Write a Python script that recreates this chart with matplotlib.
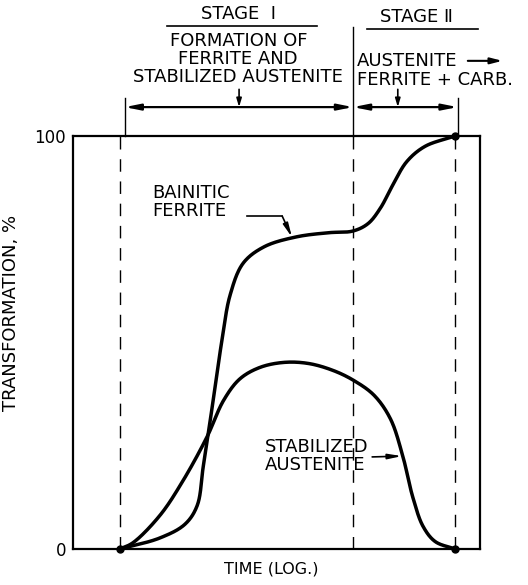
import numpy as np
import matplotlib
matplotlib.use("Agg")
import matplotlib.pyplot as plt

# ---- data (x = log time, arbitrary units 0..100; y = %) ----
ferrite_t = [11.5, 21.4, 27.5, 30.5, 32.0, 34.2, 36.6, 38.6, 41.8, 47.0, 55.0,
             63.0, 68.8, 72.5, 75.5, 78.5, 82.0, 86.5, 93.9]
ferrite_y = [0.0, 2.7, 6.0, 10.5, 20.0, 34.4, 50.6, 61.5, 69.2, 73.2, 75.6,
             76.6, 77.0, 78.8, 82.5, 88.0, 93.8, 97.5, 100.0]

austenite_t = [11.5, 14.7, 21.4, 27.0, 32.9, 37.0, 41.0, 46.0, 52.0, 58.0, 64.0,
               69.0, 74.0, 78.0, 81.0, 83.5, 86.0, 89.0, 93.9]
austenite_y = [0.0, 1.5, 8.2, 16.5, 27.1, 36.0, 41.2, 44.0, 45.2, 44.9, 43.2,
               40.8, 37.2, 31.5, 22.6, 12.5, 5.5, 1.8, 0.0]

stage_bounds = [11.5, 68.8, 93.9]
ytick_vals = [0, 100]
ytick_labels = ["0", "100"]


def smooth(xs, ys, n=30, alpha=0.5):
    """Centripetal Catmull-Rom spline through the read points."""
    p = np.column_stack([xs, ys]).astype(float)
    p = np.vstack([2 * p[0] - p[1], p, 2 * p[-1] - p[-2]])
    out = []
    for i in range(1, len(p) - 2):
        P0, P1, P2, P3 = p[i - 1], p[i], p[i + 1], p[i + 2]
        t0 = 0.0
        t1 = t0 + np.linalg.norm(P1 - P0) ** alpha
        t2 = t1 + np.linalg.norm(P2 - P1) ** alpha
        t3 = t2 + np.linalg.norm(P3 - P2) ** alpha
        t = np.linspace(t1, t2, n, endpoint=False)[:, None]
        A1 = (t1 - t) / (t1 - t0) * P0 + (t - t0) / (t1 - t0) * P1
        A2 = (t2 - t) / (t2 - t1) * P1 + (t - t1) / (t2 - t1) * P2
        A3 = (t3 - t) / (t3 - t2) * P2 + (t - t2) / (t3 - t2) * P3
        B1 = (t2 - t) / (t2 - t0) * A1 + (t - t0) / (t2 - t0) * A2
        B2 = (t3 - t) / (t3 - t1) * A2 + (t - t1) / (t3 - t1) * A3
        C = (t2 - t) / (t2 - t1) * B1 + (t - t1) / (t2 - t1) * B2
        out.append(C)
    out.append(p[-2][None, :])
    out = np.vstack(out)
    return out[:, 0], out[:, 1]


plt.rcParams['font.family'] = ["DejaVu Sans"]

fig = plt.figure(figsize=(5.28, 5.85), dpi=100)
ax = fig.add_axes([0.1383, 0.0615, 0.7708, 0.706])
ax.set_xlim(0, 100)
ax.set_ylim(0, 100)
for s in ax.spines.values():
    s.set_linewidth(1.6)
    s.set_color("black")

ax.set_xticks([])
ax.set_yticks(ytick_vals)
ax.set_yticklabels(ytick_labels, fontsize=12)
ax.tick_params(axis='y', length=0, pad=5)

ax.set_xlabel("TIME (LOG.)", fontsize=11.5)
ax.xaxis.set_label_coords(0.486, -0.03)
ax.xaxis.label.set_va("top")
ax.set_ylabel("TRANSFORMATION, %", fontsize=13)
ax.yaxis.set_label_coords(-0.13, 0.571)

# dashed stage boundaries
for xb in stage_bounds:
    ax.plot([xb, xb], [0, 100], color="black", lw=1.0, dashes=(9, 7))

# curves
ax.plot(*smooth(ferrite_t, ferrite_y), color="black", lw=2.5, solid_capstyle="round")
ax.plot(*smooth(austenite_t, austenite_y), color="black", lw=2.5, solid_capstyle="round")

# end dots
ax.plot([stage_bounds[0], stage_bounds[2], stage_bounds[2]],
        [0, 0, 100], "o", color="black", ms=5, clip_on=False, zorder=5)

# ---- annotations above the axes ----
kw = dict(clip_on=False, color="black")
ybr = 107.0
ax.plot([stage_bounds[1], stage_bounds[1]], [100, 126.5], lw=1.0, **kw)
ax.plot([stage_bounds[0] + 1.2, stage_bounds[0] + 1.2], [100, 109.2], lw=1.0, **kw)
ax.plot([stage_bounds[2] + 0.6, stage_bounds[2] + 0.6], [100, 109.2], lw=1.0, **kw)
ap = dict(arrowstyle="<|-|>,head_length=0.9,head_width=0.18", lw=1.6, color="black",
          shrinkA=0, shrinkB=0)
ax.annotate("", xy=(stage_bounds[0] + 1.2, ybr), xytext=(stage_bounds[1], ybr),
            arrowprops=ap, annotation_clip=False)
ax.annotate("", xy=(stage_bounds[1], ybr), xytext=(stage_bounds[2] + 0.6, ybr),
            arrowprops=ap, annotation_clip=False)
for xm in [40.8, 79.8]:
    ax.annotate("", xy=(xm, ybr), xytext=(xm, ybr + 4.3),
                arrowprops=dict(arrowstyle="-|>,head_length=0.5,head_width=0.15",
                                lw=1.2, color="black", shrinkA=0, shrinkB=0),
                annotation_clip=False)

ax.text(40.6, 129.6, "STAGE  I", ha="center", va="center", fontsize=13, **kw)
ax.plot([23.2, 60.0], [126.6, 126.6], lw=1.2, **kw)
ax.text(84.5, 128.8, "STAGE \u2161", ha="center", va="center", fontsize=13, **kw)
ax.plot([72.2, 99.5], [125.9, 125.9], lw=1.2, **kw)

ax.text(40.6, 118.6, "FORMATION OF\nFERRITE AND\nSTABILIZED AUSTENITE",
        ha="center", va="center", fontsize=13, linespacing=0.98, **kw)
ax.text(69.8, 118.2, "AUSTENITE", ha="left", va="center", fontsize=13, **kw)
ax.text(69.8, 113.6, "FERRITE + CARB.", ha="left", va="center", fontsize=13, **kw)
ax.annotate("", xy=(105.5, 118.2), xytext=(97.0, 118.2),
            arrowprops=dict(arrowstyle="-|>,head_length=0.7,head_width=0.18", lw=1.5,
                            color="black", shrinkA=0, shrinkB=0),
            annotation_clip=False)

# curve labels
ax.text(19.5, 84.0, "BAINITIC\nFERRITE", ha="left", va="center", fontsize=13,
        linespacing=1.0)
ax.plot([42.7, 51.4], [80.6, 80.6], color="black", lw=1.2)
ax.annotate("", xy=(53.8, 75.5), xytext=(51.4, 80.6),
            arrowprops=dict(arrowstyle="-|>,head_length=0.8,head_width=0.15", lw=1.2,
                            color="black", shrinkA=0, shrinkB=0))

ax.text(47.2, 22.5, "STABILIZED\nAUSTENITE", ha="left", va="center", fontsize=13,
        linespacing=1.0)
ax.annotate("", xy=(80.8, 22.5), xytext=(73.5, 22.3),
            arrowprops=dict(arrowstyle="-|>,head_length=0.8,head_width=0.15", lw=1.2,
                            color="black", shrinkA=0, shrinkB=0))

fig.savefig("out.png", dpi=100)
